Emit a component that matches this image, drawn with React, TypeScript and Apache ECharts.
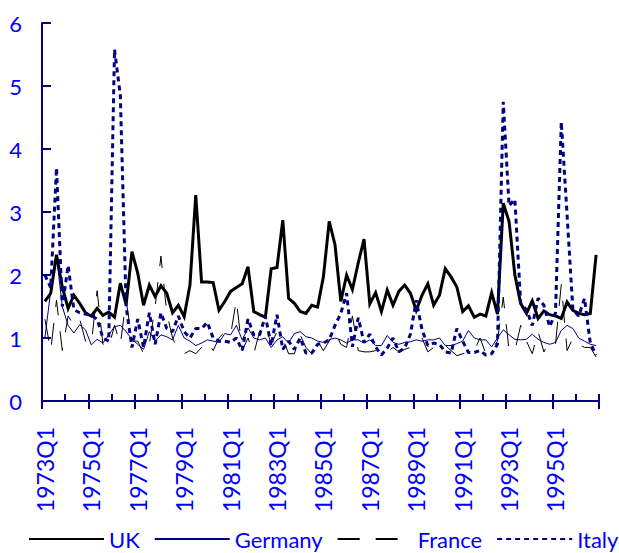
import React, { useEffect, useRef } from 'react';
import * as echarts from 'echarts';

const years = [1973, 1974, 1975, 1976, 1977, 1978, 1979, 1980, 1981, 1982, 1983, 1984,
  1985, 1986, 1987, 1988, 1989, 1990, 1991, 1992, 1993, 1994, 1995, 1996];
const quarterNames = ['Q1', 'Q2', 'Q3', 'Q4'];
const categories = years.flatMap((y) => quarterNames.map((q) => `${y}${q}`));

const yTicks = [0, 1, 2, 3, 4, 5, 6];

const uk = [
  1.58, 1.71, 2.32, 1.81, 1.47, 1.68, 1.55, 1.40, 1.35, 1.47, 1.36, 1.41, 1.33, 1.87, 1.53, 2.37,
  2.03, 1.52, 1.84, 1.66, 1.83, 1.71, 1.40, 1.52, 1.34, 1.84, 3.27, 1.89, 1.89, 1.88, 1.44, 1.58,
  1.74, 1.80, 1.86, 2.13, 1.42, 1.37, 1.33, 2.10, 2.12, 2.87, 1.63, 1.55, 1.42, 1.39, 1.52, 1.49,
  1.97, 2.85, 2.48, 1.58, 2.00, 1.77, 2.19, 2.57, 1.54, 1.72, 1.42, 1.76, 1.52, 1.74, 1.84, 1.71,
  1.44, 1.68, 1.86, 1.52, 1.68, 2.10, 1.97, 1.81, 1.42, 1.51, 1.33, 1.38, 1.35, 1.72, 1.38, 3.14,
  2.85, 2.00, 1.55, 1.39, 1.59, 1.31, 1.43, 1.37, 1.35, 1.31, 1.57, 1.44, 1.39, 1.37, 1.39, 2.32,
];

const germany = [
  1.00, 1.75, 2.30, 1.50, 1.20, 1.08, 1.21, 1.13, 0.89, 0.98, 0.92, 1.05, 1.18, 1.20, 1.10, 0.98,
  0.90, 0.82, 1.10, 0.95, 1.05, 1.02, 0.97, 1.20, 1.00, 0.95, 0.88, 0.92, 0.97, 0.95, 0.93, 1.07,
  1.05, 1.20, 0.97, 1.16, 1.00, 0.97, 1.00, 0.85, 0.97, 1.02, 0.92, 1.07, 1.10, 1.02, 1.00, 0.95,
  0.93, 0.97, 1.00, 0.97, 0.92, 0.97, 0.97, 0.92, 0.97, 0.88, 0.88, 1.04, 0.93, 0.90, 0.93, 0.94,
  0.97, 0.95, 0.97, 0.97, 1.00, 0.88, 0.88, 0.91, 0.95, 1.12, 1.00, 0.97, 0.97, 0.86, 1.00, 1.13,
  1.05, 0.98, 0.97, 0.98, 1.06, 0.98, 0.93, 0.90, 0.93, 1.12, 1.20, 1.15, 1.00, 0.95, 0.90, 0.88,
];

const france = [
  1.30, 0.80, 1.60, 0.80, 1.35, 1.20, 1.30, 0.95, 0.90, 1.75, 0.90, 0.85, 1.20, 0.90, 1.60, 0.95,
  0.95, 0.75, 0.90, 1.50, 2.30, 1.40, 1.00, 0.80, 0.75, 0.80, 0.75, 0.85, 0.95, 0.80, 1.00, 1.10,
  1.05, 1.60, 0.80, 1.00, 0.75, 1.10, 1.20, 0.90, 1.10, 1.00, 0.75, 0.75, 1.05, 0.85, 0.75, 0.95,
  0.80, 0.95, 1.10, 0.90, 0.85, 1.35, 0.80, 0.78, 0.78, 0.80, 0.75, 0.78, 0.85, 0.78, 0.82, 0.85,
  0.95, 1.00, 0.78, 0.85, 0.80, 0.88, 0.80, 0.72, 0.75, 0.78, 0.80, 1.00, 0.75, 0.82, 0.95, 1.65,
  0.80, 0.80, 1.20, 0.95, 0.75, 1.10, 0.78, 0.95, 0.90, 1.85, 0.80, 1.00, 0.90, 0.85, 0.85, 0.70,
];

const italy = [
  2.00, 1.80, 3.70, 1.50, 2.15, 1.45, 1.40, 1.38, 1.36, 1.30, 1.00, 0.95, 5.58, 4.85, 1.50, 0.85,
  1.30, 0.85, 1.40, 0.90, 1.40, 1.15, 1.10, 1.35, 1.10, 1.00, 1.15, 1.15, 1.25, 1.00, 0.95, 0.95,
  0.93, 1.00, 0.80, 1.30, 1.05, 1.05, 1.35, 0.88, 1.37, 0.82, 0.95, 0.82, 1.00, 0.76, 0.76, 0.90,
  0.92, 0.97, 1.20, 1.39, 1.71, 0.86, 1.32, 0.93, 1.06, 0.86, 0.73, 0.84, 1.00, 0.78, 0.84, 1.06,
  1.60, 1.13, 0.88, 0.92, 0.90, 0.78, 0.76, 1.15, 0.95, 0.77, 0.77, 0.80, 0.73, 0.75, 0.90, 4.75,
  3.10, 3.20, 1.55, 1.45, 1.20, 1.63, 1.52, 1.18, 1.40, 4.43, 2.95, 1.45, 1.35, 1.63, 0.92, 0.73,
];

const NAVY = '#000080';
const BLUE = '#0000FF';
const FONT = 'Lato, "DejaVu Sans", sans-serif';

export default function App() {
  const ref = useRef<HTMLDivElement>(null);

  useEffect(() => {
    if (!ref.current) return;
    const chart = echarts.init(ref.current, undefined, { renderer: 'svg' });
    const baseX = {
      type: 'category' as const,
      data: categories,
      boundaryGap: true,
      position: 'bottom' as const,
    };
    chart.setOption({
      animation: false,
      backgroundColor: '#ffffff',
      grid: { left: 42, top: 23, width: 557, height: 378, containLabel: false },
      legend: {
        left: 28,
        top: 528,
        width: 591,
        padding: 0,
        itemWidth: 75,
        itemHeight: 14,
        itemGap: 14,
        itemStyle: { opacity: 0 },
        textStyle: { color: BLUE, fontSize: 22, fontFamily: FONT },
        data: ['UK', 'Germany', 'France', 'Italy'],
      },
      xAxis: [
        {
          ...baseX,
          axisLine: { show: true, lineStyle: { color: NAVY, width: 2 } },
          axisTick: {
            show: true,
            inside: true,
            length: 7,
            interval: (index: number) => index % 4 === 0,
            lineStyle: { color: NAVY, width: 2 },
          },
          axisLabel: {
            show: true,
            interval: 7,
            rotate: 90,
            margin: 26,
            color: BLUE,
            fontSize: 23,
            fontFamily: FONT,
          },
          splitLine: { show: false },
        },
        {
          ...baseX,
          axisLine: { show: false },
          axisTick: {
            show: true,
            inside: false,
            length: 8,
            interval: (index: number) => index % 8 === 0,
            lineStyle: { color: NAVY, width: 2 },
          },
          axisLabel: { show: false },
          splitLine: { show: false },
        },
      ],
      yAxis: {
        type: 'value',
        min: yTicks[0],
        max: yTicks[yTicks.length - 1],
        interval: 1,
        axisLine: { show: true, lineStyle: { color: NAVY, width: 2 } },
        axisTick: { show: true, inside: true, length: 9, lineStyle: { color: NAVY, width: 2 } },
        axisLabel: { color: BLUE, fontSize: 22, fontFamily: FONT, margin: 20 },
        splitLine: { show: false },
      },
      series: [
        {
          name: 'UK',
          type: 'line',
          data: uk,
          symbol: 'none',
          xAxisIndex: 0,
          lineStyle: { color: '#000000', width: 3, join: 'miter' },
          itemStyle: { color: '#000000' },
          z: 4,
        },
        {
          name: 'Germany',
          type: 'line',
          data: germany,
          symbol: 'none',
          xAxisIndex: 0,
          lineStyle: { color: NAVY, width: 1 },
          itemStyle: { color: NAVY },
          z: 2,
        },
        {
          name: 'France',
          type: 'line',
          data: france,
          symbol: 'none',
          xAxisIndex: 0,
          lineStyle: { color: '#000000', width: 1, type: [22, 16] },
          itemStyle: { color: '#000000' },
          z: 3,
        },
        {
          name: 'Italy',
          type: 'line',
          data: italy,
          symbol: 'none',
          xAxisIndex: 0,
          lineStyle: { color: NAVY, width: 3, type: [5, 4], cap: 'butt' },
          itemStyle: { color: NAVY },
          z: 5,
        },
      ],
    });
    return () => chart.dispose();
  }, []);

  return (
    <div
      ref={ref}
      style={{ position: 'fixed', left: 0, top: 0, width: 619, height: 553, background: '#fff' }}
    />
  );
}
